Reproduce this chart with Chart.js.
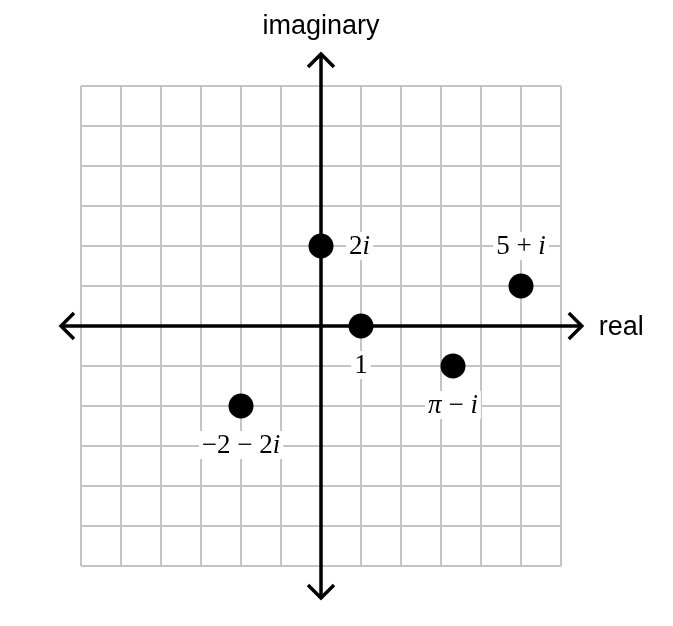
<!DOCTYPE html>
<html>
<head>
<meta charset="utf-8">
<script src="https://cdn.jsdelivr.net/npm/chart.js@4"></script>
<style>
  body { margin: 0; background: #fff; }
  canvas { display: block; }
</style>
</head>
<body>
<canvas id="plane" width="673" height="626"></canvas>
<script>
// complex numbers plotted on the plane
const pointLabels = ['2i', '1', '5 + i', 'π − i', '−2 − 2i']
const realParts = [0, 1, 5, 3.3, -2]
const imagParts = [2, 0, 1, -1, -2]
const labelSide = ['right', 'below', 'above', 'below', 'below']

const gridMin = -6
const gridMax = 6
const realTitle = 'real'
const imagTitle = 'imaginary'

const mathFont = "'Liberation Serif', 'DejaVu Serif', serif"
const sansFont = "'Liberation Sans', Arial, sans-serif"

// split label into upright / italic pieces (letters i and π are italic)
function pieces(str) {
    const out = []
    for (const ch of str) {
        const it = ch === 'i' || ch === 'π'
        const last = out[out.length - 1]
        if (last && last.it === it) last.t += ch
        else out.push({t: ch, it: it})
    }
    return out
}

function fontFor(it) {
    return (it ? 'italic ' : '') + '27px ' + mathFont
}

function drawArrow(ctx, x, y, dx, dy) {
    const len = 13
    const px = -dy, py = dx
    ctx.beginPath()
    ctx.moveTo(x - dx * len + px * len, y - dy * len + py * len)
    ctx.lineTo(x, y)
    ctx.lineTo(x - dx * len - px * len, y - dy * len - py * len)
    ctx.stroke()
}

const axesPlugin = {
    id: 'axesPlugin',
    beforeDatasetsDraw(chart) {
        const ctx = chart.ctx
        const xs = chart.scales.x
        const ys = chart.scales.y
        const x0 = xs.getPixelForValue(0)
        const y0 = ys.getPixelForValue(0)
        const left = xs.getPixelForValue(-6.5), right = xs.getPixelForValue(6.52)
        const top = ys.getPixelForValue(6.8), bottom = ys.getPixelForValue(-6.8)
        ctx.save()
        ctx.strokeStyle = '#000'
        ctx.lineWidth = 3.5
        ctx.lineCap = 'butt'
        ctx.lineJoin = 'miter'
        ctx.beginPath()
        ctx.moveTo(left + 2, y0)
        ctx.lineTo(right - 2, y0)
        ctx.moveTo(x0, top + 2)
        ctx.lineTo(x0, bottom - 2)
        ctx.stroke()
        drawArrow(ctx, left, y0, -1, 0)
        drawArrow(ctx, right, y0, 1, 0)
        drawArrow(ctx, x0, top, 0, -1)
        drawArrow(ctx, x0, bottom, 0, 1)

        ctx.fillStyle = '#000'
        ctx.font = '27px ' + sansFont
        ctx.textBaseline = 'middle'
        ctx.textAlign = 'left'
        ctx.fillText(realTitle, right + 17, y0 + 2)
        ctx.textAlign = 'center'
        ctx.fillText(imagTitle, x0, top - 27)
        ctx.restore()
    },
    afterDatasetsDraw(chart) {
        const ctx = chart.ctx
        const meta = chart.getDatasetMeta(0)
        ctx.save()
        ctx.textBaseline = 'middle'
        ctx.textAlign = 'left'
        meta.data.forEach((pt, i) => {
            const parts = pieces(pointLabels[i])
            let w = 0
            parts.forEach(p => {
                ctx.font = fontFor(p.it)
                p.w = ctx.measureText(p.t).width
                w += p.w
            })
            let x, y
            if (labelSide[i] === 'right') {
                x = pt.x + 28
                y = pt.y
            } else if (labelSide[i] === 'above') {
                x = pt.x - w / 2
                y = pt.y - 40
            } else {
                x = pt.x - w / 2
                y = pt.y + 39
            }
            ctx.fillStyle = '#fff'
            ctx.fillRect(x - 3, y - 14, w + 6, 28)
            ctx.fillStyle = '#000'
            parts.forEach(p => {
                ctx.font = fontFor(p.it)
                ctx.fillText(p.t, x, y + 1)
                x += p.w
            })
        })
        ctx.restore()
    }
}

const points = realParts.map((re, i) => ({x: re, y: imagParts[i]}))

function planeScale() {
    return {
        type: 'linear',
        min: gridMin,
        max: gridMax,
        grid: {
            color: '#c4c4c4',
            lineWidth: 2,
            drawTicks: false,
        },
        border: {
            display: false,
        },
        ticks: {
            display: false,
            stepSize: 1,
        },
    }
}

new Chart(document.getElementById('plane'), {
    type: 'scatter',
    data: {
        datasets: [{
            data: points,
            pointRadius: 12.5,
            pointHoverRadius: 12.5,
            backgroundColor: '#000',
            borderColor: '#000',
            borderWidth: 0,
        }]
    },
    options: {
        responsive: false,
        animation: false,
        layout: {
            padding: {left: 81, right: 112, top: 86, bottom: 60}
        },
        scales: {
            x: planeScale(),
            y: planeScale(),
        },
        plugins: {
            legend: {display: false},
            tooltip: {enabled: false},
        }
    },
    plugins: [axesPlugin]
})
</script>
</body>
</html>
